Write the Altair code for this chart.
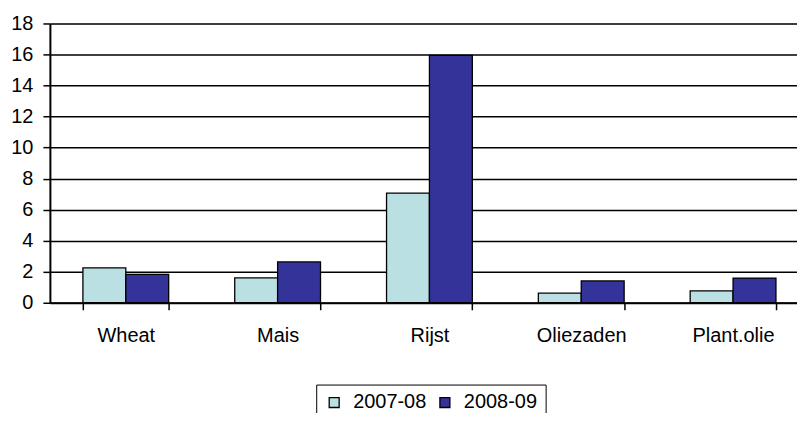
import altair as alt
import pandas as pd

categories = ["Wheat", "Mais", "Rijst", "Oliezaden", "Plant.olie"]
series = ["2007-08", "2008-09"]
values_2007_08 = [2.25, 1.6, 7.07, 0.62, 0.77]
values_2008_09 = [1.83, 2.63, 15.95, 1.41, 1.59]
colors = ["#BBE0E3", "#333399"]

rows = []
for c, a, b in zip(categories, values_2007_08, values_2008_09):
    rows.append({"cat": c, "series": series[0], "value": a})
    rows.append({"cat": c, "series": series[1], "value": b})
df = pd.DataFrame(rows)

FONT = "Liberation Sans"
FS = 20

chart = alt.Chart(df).mark_bar(stroke="black", strokeWidth=1.3).encode(
    x=alt.X("cat:N", sort=categories, title=None,
            scale=alt.Scale(paddingInner=0.435, paddingOuter=0.2175),
            axis=alt.Axis(labelAngle=0, labelFontSize=FS, labelFont=FONT, labelColor="black",
                          labelPadding=16, tickBand="extent", tickColor="black", tickSize=7,
                          tickWidth=1.5, domainColor="black", domainWidth=2, grid=False)),
    xOffset=alt.XOffset("series:N", sort=series),
    y=alt.Y("value:Q", title=None,
            scale=alt.Scale(domain=[0, 18], nice=False),
            axis=alt.Axis(values=list(range(0, 19, 2)), labelFontSize=FS, labelFont=FONT,
                          labelColor="black", tickColor="black", tickSize=7, tickWidth=1.5,
                          labelPadding=10, domainColor="black", domainWidth=2,
                          gridColor="black", gridWidth=1.5, gridOpacity=1)),
    color=alt.Color("series:N", sort=series,
                    scale=alt.Scale(domain=series, range=colors),
                    legend=alt.Legend(title=None, orient="none", direction="horizontal",
                                      legendX=267, legendY=362,
                                      labelFontSize=FS, labelFont=FONT, labelColor="black",
                                      symbolType="square", symbolSize=100,
                                      symbolStrokeColor="black", symbolStrokeWidth=1.3,
                                      strokeColor="black",
                                      padding=8, columnPadding=8,
                                      labelOffset=9)),
).properties(
    width=761, height=280,
    autosize=alt.AutoSizeParams(type="none"),
    padding={"left": 42, "top": 15, "right": -12, "bottom": 110},
).configure_view(stroke=None).configure(background="white")

chart.save("out.html", embed_options={"renderer": "svg", "actions": False})
